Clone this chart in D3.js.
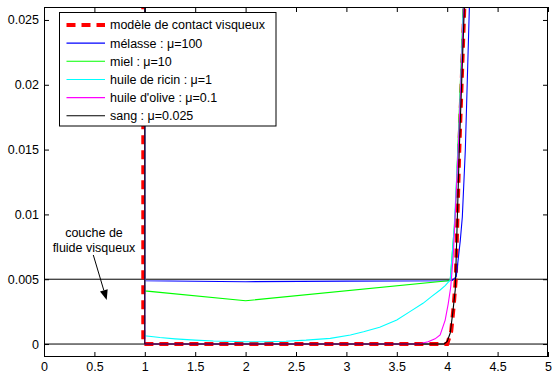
<!DOCTYPE html>
<html>
<head>
<meta charset="utf-8">
<script src="https://cdn.jsdelivr.net/npm/d3@7"></script>
<style>
body{margin:0;background:#fff;}
text{font-family:"Liberation Sans",Arial,Helvetica,sans-serif;}
</style>
</head>
<body>
<svg id="canvas" width="555" height="375"></svg>
<script>
// ticks
let xTicks=[0,0.5,1,1.5,2,2.5,3,3.5,4,4.5,5];
let xTickLabels=["0","0.5","1","1.5","2","2.5","3","3.5","4","4.5","5"];
let yTicks=[0,0.005,0.01,0.015,0.02,0.025];
let yTickLabels=["0","0.005","0.01","0.015","0.02","0.025"];

// series
let seriesNames=["modèle de contact visqueux","mélasse : μ=100","miel : μ=10","huile de ricin : μ=1","huile d'olive : μ=0.1","sang : μ=0.025"];
let seriesColors=["#ff0000","#0000ff","#00ff00","#00ffff","#ff00ff","#000000"];

let xModele=[0.985,0.985,4.0,4.04,4.065,4.085,4.12,4.17,4.2];
let yModele=[0.03,0,0,0.001,0.003,0.005,0.015,0.026,0.031];

let xMelasse=[1,1,2,3,4.0,4.05,4.09,4.13,4.15,4.18,4.22,4.24];
let yMelasse=[0.03,0.00488,0.00481,0.00485,0.00488,0.0049,0.0052,0.008,0.0098,0.015,0.026,0.031];

let xMiel=[1,1,2,4.03,4.08,4.16,4.19];
let yMiel=[0.03,0.0041,0.00334,0.0049,0.01,0.026,0.031];

let xRicin=[1,1,1.15,1.3,1.5,1.68,2.0,2.2,2.4,2.6,2.84,3.04,3.17,3.33,3.5,3.63,3.76,3.85,3.93,3.98,4.03,4.07,4.12,4.16,4.19];
let yRicin=[0.03,0.00064,0.0005,0.0004,0.0003,0.00023,0.00018,0.00018,0.00022,0.0003,0.00044,0.0007,0.00095,0.0013,0.00185,0.0025,0.00314,0.0037,0.00417,0.0045,0.00494,0.009,0.017,0.026,0.031];

let xOlive=[1,1,3.72,3.81,3.88,3.93,3.98,4.01,4.035,4.06,4.11,4.165,4.19];
let yOlive=[0.03,0,0,0.00018,0.0004,0.0007,0.00185,0.0031,0.0044,0.0068,0.015,0.026,0.031];

let xSang=[1,1,3.97,4.0,4.03,4.055,4.08,4.12,4.17,4.2];
let ySang=[0.03,0,0,0.0002,0.00085,0.0024,0.0042,0.015,0.026,0.031];

// reference lines
let refLevels=[0,0.005];

let allX=[xModele,xMelasse,xMiel,xRicin,xOlive,xSang];
let allY=[yModele,yMelasse,yMiel,yRicin,yOlive,ySang];

let canvas=d3.select("#canvas");
let mLeft=44,mRight=548,mTop=7,mBottom=357;

let xScale=d3.scaleLinear().domain([0,5]).range([mLeft,mRight]);
let yScale=d3.scaleLinear().domain([-0.001,0.026]).range([mBottom,mTop]);

canvas.append("defs").append("clipPath").attr("id","clip")
  .append("rect").attr("x",mLeft).attr("y",mTop).attr("width",mRight-mLeft).attr("height",mBottom-mTop);

let plot=canvas.append("g").attr("clip-path","url(#clip)");

let line=d3.line().x(d=>xScale(d[0])).y(d=>yScale(d[1]));

refLevels.forEach(v=>{
  plot.append("path")
    .attr("d",line([[0,v],[5,v]]))
    .attr("fill","none").attr("stroke","#000").attr("stroke-width",1);
});

allX.forEach((xs,i)=>{
  let pts=xs.map((x,j)=>[x,allY[i][j]]);
  plot.append("path")
    .attr("d",line(pts))
    .attr("fill","none")
    .attr("stroke",seriesColors[i])
    .attr("stroke-width",i===0?4:1.1)
    .attr("stroke-dasharray",i===0?"9,6":null);
});

// axes
let axB=d3.axisBottom(xScale).tickValues(xTicks).tickFormat((d,i)=>xTickLabels[i]).tickSizeInner(-5).tickSizeOuter(0).tickPadding(5);
let axT=d3.axisTop(xScale).tickValues(xTicks).tickFormat("").tickSizeInner(-5).tickSizeOuter(0);
let axL=d3.axisLeft(yScale).tickValues(yTicks).tickFormat((d,i)=>yTickLabels[i]).tickSizeInner(-5).tickSizeOuter(0).tickPadding(5);
let axR=d3.axisRight(yScale).tickValues(yTicks).tickFormat("").tickSizeInner(-5).tickSizeOuter(0);

let styleAxis=g=>{
  g.select(".domain").remove();
  g.selectAll("line").attr("stroke","#000");
  g.selectAll("text").attr("font-size","12.5px").attr("fill","#000").attr("font-family","'Liberation Sans',Arial,sans-serif");
};
canvas.append("g").attr("transform","translate(0,"+mBottom+")").call(axB).call(styleAxis);
canvas.append("g").attr("transform","translate(0,"+mTop+")").call(axT).call(styleAxis);
canvas.append("g").attr("transform","translate("+mLeft+",0)").call(axL).call(styleAxis);
canvas.append("g").attr("transform","translate("+mRight+",0)").call(axR).call(styleAxis);

canvas.append("rect")
  .attr("x",mLeft+0.5).attr("y",mTop+0.5).attr("width",mRight-mLeft-1).attr("height",mBottom-mTop-1)
  .attr("fill","none").attr("stroke","#000").attr("stroke-width",1);

// annotation
let annX=0.496;
canvas.append("text").attr("x",xScale(annX)).attr("y",yScale(0.00857)).attr("dy","0.35em")
  .attr("text-anchor","middle").attr("font-size","12.5px").text("couche de");
canvas.append("text").attr("x",xScale(annX)).attr("y",yScale(0.0074)).attr("dy","0.35em")
  .attr("text-anchor","middle").attr("font-size","12.5px").text("fluide visqueux");

let a0=[xScale(0.489),yScale(0.00687)], a1=[xScale(0.622),yScale(0.0034)];
let ang=Math.atan2(a1[1]-a0[1],a1[0]-a0[0]);
let hl=10,hw=4;
let base=[a1[0]-hl*Math.cos(ang),a1[1]-hl*Math.sin(ang)];
canvas.append("line").attr("x1",a0[0]).attr("y1",a0[1]).attr("x2",base[0]).attr("y2",base[1])
  .attr("stroke","#000").attr("stroke-width",1);
canvas.append("path")
  .attr("d","M"+a1[0]+","+a1[1]+"L"+(base[0]+hw*Math.sin(ang))+","+(base[1]-hw*Math.cos(ang))+"L"+(base[0]-hw*Math.sin(ang))+","+(base[1]+hw*Math.cos(ang))+"Z")
  .attr("fill","#000");

// legend
let legend=canvas.append("g");
legend.append("rect").attr("x",59.5).attr("y",12.5).attr("width",216.5).attr("height",113.5)
  .attr("fill","#fff").attr("stroke","#000").attr("stroke-width",1);
seriesNames.forEach((name,i)=>{
  let y=25+i*18.15;
  legend.append("line").attr("x1",66.5).attr("x2",105).attr("y1",y).attr("y2",y)
    .attr("stroke",seriesColors[i])
    .attr("stroke-width",i===0?4:1.1)
    .attr("stroke-dasharray",i===0?"9,6":null);
  legend.append("text").attr("x",110).attr("y",y).attr("dy","0.35em")
    .attr("font-size","12.5px").text(name);
});
</script>
</body>
</html>
